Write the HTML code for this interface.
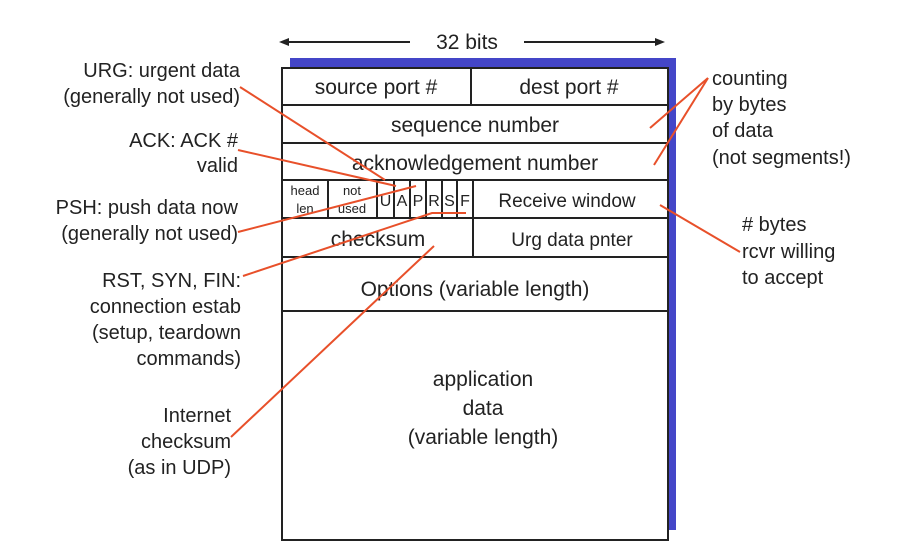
<!DOCTYPE html>
<html><head><meta charset="utf-8"><style>
html,body{margin:0;padding:0;background:#fff;}
svg{display:block;}
text{font-family:"Liberation Sans",sans-serif;fill:#222;}
</style></head><body>
<svg width="922" height="558" viewBox="0 0 922 558" xmlns="http://www.w3.org/2000/svg">
<rect x="290" y="58" width="386" height="472" fill="#4446c8"/>
<rect x="282" y="68" width="386" height="472" fill="#fff" stroke="#222" stroke-width="2"/>
<g stroke="#222" stroke-width="2">
<line x1="282" y1="105" x2="668" y2="105"/>
<line x1="282" y1="143" x2="668" y2="143"/>
<line x1="282" y1="180" x2="668" y2="180"/>
<line x1="282" y1="218" x2="668" y2="218"/>
<line x1="282" y1="257" x2="668" y2="257"/>
<line x1="282" y1="311" x2="668" y2="311"/>
<line x1="471" y1="68" x2="471" y2="105"/>
<line x1="473" y1="180" x2="473" y2="257"/>
<line x1="328" y1="180" x2="328" y2="218"/>
<line x1="377" y1="180" x2="377" y2="218"/>
<line x1="394" y1="180" x2="394" y2="218"/>
<line x1="410" y1="180" x2="410" y2="218"/>
<line x1="426" y1="180" x2="426" y2="218"/>
<line x1="442" y1="180" x2="442" y2="218"/>
<line x1="457" y1="180" x2="457" y2="218"/>
</g>
<g stroke="#222" stroke-width="2">
<line x1="286" y1="42" x2="410" y2="42"/>
<line x1="524" y1="42" x2="658" y2="42"/>
</g>
<polygon points="279,42 289,38 289,46" fill="#222"/>
<polygon points="665,42 655,38 655,46" fill="#222"/>
<text x="467" y="49" font-size="21" text-anchor="middle">32 bits</text>
<g font-size="21" text-anchor="middle">
<text x="376" y="94">source port #</text>
<text x="569" y="94">dest port #</text>
<text x="475" y="132">sequence number</text>
<text x="475" y="170">acknowledgement number</text>
<text x="567" y="207" font-size="19">Receive window</text>
<text x="378" y="246">checksum</text>
<text x="572" y="246" font-size="19">Urg data pnter</text>
<text x="475" y="296">Options (variable length)</text>
<text x="483" y="386">application</text>
<text x="483" y="415">data</text>
<text x="483" y="444">(variable length)</text>
</g>
<g font-size="13" text-anchor="middle">
<text x="305" y="195">head</text>
<text x="305" y="213">len</text>
<text x="352" y="195">not</text>
<text x="352" y="213">used</text>
</g>
<g font-size="16" text-anchor="middle">
<text x="385.5" y="206">U</text>
<text x="402" y="206">A</text>
<text x="418" y="206">P</text>
<text x="434" y="206">R</text>
<text x="449.5" y="206">S</text>
<text x="465" y="206">F</text>
</g>
<g stroke="#e8502a" stroke-width="2" fill="none">
<line x1="240" y1="87" x2="385" y2="180"/>
<line x1="238" y1="150" x2="396" y2="186"/>
<line x1="238" y1="232" x2="416" y2="186"/>
<polyline points="243,276 432,213 466,213"/>
<line x1="231" y1="437" x2="434" y2="246"/>
<line x1="708" y1="78" x2="650" y2="128"/>
<line x1="708" y1="78" x2="654" y2="165"/>
<line x1="660" y1="205" x2="740" y2="252"/>
</g>
<g font-size="20" text-anchor="end">
<text x="240" y="77">URG: urgent data</text>
<text x="240" y="103">(generally not used)</text>
<text x="238" y="147">ACK: ACK #</text>
<text x="238" y="172">valid</text>
<text x="238" y="214">PSH: push data now</text>
<text x="238" y="240">(generally not used)</text>
<text x="241" y="287">RST, SYN, FIN:</text>
<text x="241" y="313">connection estab</text>
<text x="241" y="339">(setup, teardown</text>
<text x="241" y="365">commands)</text>
<text x="231" y="422">Internet</text>
<text x="231" y="448">checksum</text>
<text x="231" y="474">(as in UDP)</text>
</g>
<g font-size="20">
<text x="712" y="85">counting</text>
<text x="712" y="111">by bytes</text>
<text x="712" y="137">of data</text>
<text x="712" y="164">(not segments!)</text>
<text x="742" y="231"># bytes</text>
<text x="742" y="258">rcvr willing</text>
<text x="742" y="284">to accept</text>
</g>
</svg>
</body></html>
